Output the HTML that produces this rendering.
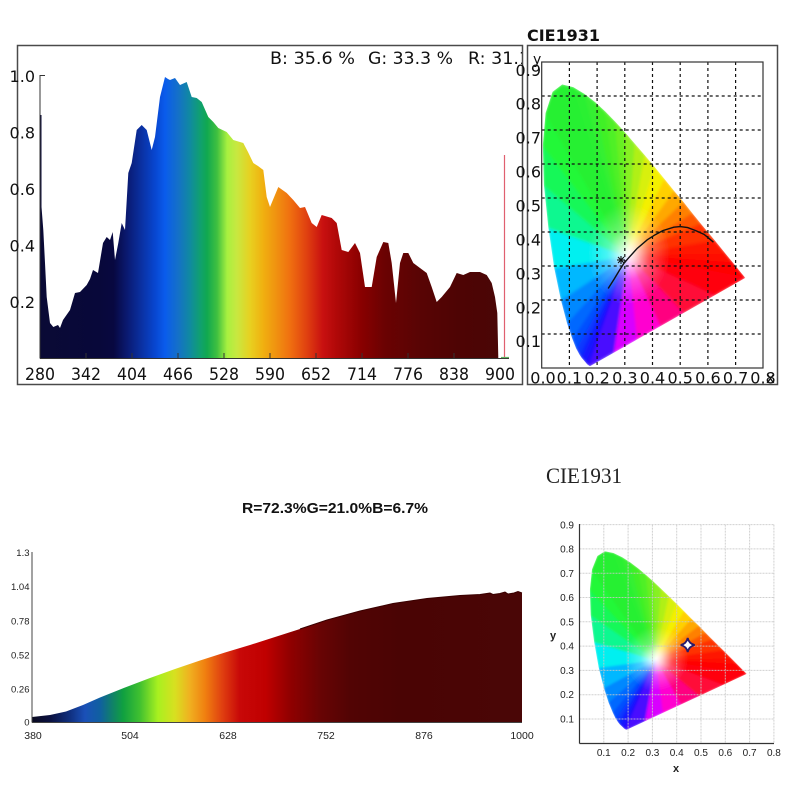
<!DOCTYPE html>
<html><head><meta charset="utf-8"><style>
html,body{margin:0;padding:0;background:#fff;}
svg{display:block;}
.fan polygon{fill:currentColor;stroke:currentColor;stroke-width:4;stroke-linejoin:round;}
.t1{font-family:"DejaVu Sans",Verdana,sans-serif;fill:#111;}
.t2{font-family:"Liberation Sans",Arial,sans-serif;fill:#222;}
</style></head><body>
<svg width="800" height="800" viewBox="0 0 800 800" xmlns="http://www.w3.org/2000/svg">
<defs>
<linearGradient id="gTop" gradientUnits="userSpaceOnUse" x1="40" y1="0" x2="500" y2="0">
<stop offset="0" stop-color="#0a0a35"/>
<stop offset="0.13" stop-color="#08083a"/>
<stop offset="0.16" stop-color="#080840"/>
<stop offset="0.19" stop-color="#0a1a72"/>
<stop offset="0.217" stop-color="#0a2e9c"/>
<stop offset="0.25" stop-color="#0846d0"/>
<stop offset="0.272" stop-color="#0a5cec"/>
<stop offset="0.3" stop-color="#1470c8"/>
<stop offset="0.326" stop-color="#108aa0"/>
<stop offset="0.348" stop-color="#10a070"/>
<stop offset="0.363" stop-color="#10a850"/>
<stop offset="0.385" stop-color="#40c040"/>
<stop offset="0.407" stop-color="#a8f040"/>
<stop offset="0.428" stop-color="#c8e840"/>
<stop offset="0.457" stop-color="#e8d020"/>
<stop offset="0.485" stop-color="#f0b010"/>
<stop offset="0.515" stop-color="#f09010"/>
<stop offset="0.543" stop-color="#f07010"/>
<stop offset="0.58" stop-color="#e04010"/>
<stop offset="0.615" stop-color="#c81010"/>
<stop offset="0.645" stop-color="#b00808"/>
<stop offset="0.7" stop-color="#880000"/>
<stop offset="0.75" stop-color="#6a0202"/>
<stop offset="0.83" stop-color="#580404"/>
<stop offset="0.91" stop-color="#4e0404"/>
<stop offset="1" stop-color="#4a0606"/>
</linearGradient>
<linearGradient id="gBot" gradientUnits="userSpaceOnUse" x1="32" y1="0" x2="522" y2="0">
<stop offset="0" stop-color="#0a0a20"/>
<stop offset="0.037" stop-color="#0a1040"/>
<stop offset="0.078" stop-color="#103080"/>
<stop offset="0.108" stop-color="#1a50b8"/>
<stop offset="0.139" stop-color="#1060a0"/>
<stop offset="0.163" stop-color="#10806a"/>
<stop offset="0.186" stop-color="#10a040"/>
<stop offset="0.22" stop-color="#40c030"/>
<stop offset="0.257" stop-color="#a8f020"/>
<stop offset="0.292" stop-color="#d8e020"/>
<stop offset="0.322" stop-color="#f0b020"/>
<stop offset="0.353" stop-color="#f08010"/>
<stop offset="0.388" stop-color="#e04010"/>
<stop offset="0.424" stop-color="#c80808"/>
<stop offset="0.476" stop-color="#c00000"/>
<stop offset="0.527" stop-color="#900000"/>
<stop offset="0.588" stop-color="#680404"/>
<stop offset="0.649" stop-color="#520404"/>
<stop offset="0.751" stop-color="#4a0404"/>
<stop offset="1" stop-color="#4a0606"/>
</linearGradient>
<radialGradient id="ws" gradientUnits="userSpaceOnUse" cx="315" cy="335" r="150">
<stop offset="0" stop-color="#fff" stop-opacity="1"/>
<stop offset="0.18" stop-color="#fff" stop-opacity="0.8"/>
<stop offset="0.5" stop-color="#fff" stop-opacity="0.3"/>
<stop offset="1" stop-color="#fff" stop-opacity="0"/>
</radialGradient>
<filter id="bl" x="-10%" y="-10%" width="120%" height="120%"><feGaussianBlur stdDeviation="5"/></filter>
<clipPath id="hs"><polygon points="174,5 164,11 157,18 144,30 136,40 124,58 110,87 91,133 69,201 45,295 24,413 8,538 4,655 14,750 39,812 74,834 114,826 155,806 193,782 230,754 266,724 302,692 337,659 373,625 409,590 444,555 479,520 513,487 545,454 575,424 627,373 666,334 692,308 719,281 735,265"/></clipPath>
<clipPath id="titleClip"><rect x="0" y="0" width="522" height="100"/></clipPath>
<g id="fanG">
<g clip-path="url(#hs)">
<g class="fan" filter="url(#bl)">
<polygon color="#2a10ff" points="310,330 174,5 164,11"/>
<polygon color="#2010ff" points="310,330 164,11 157,18"/>
<polygon color="#1818ff" points="310,330 157,18 144,30"/>
<polygon color="#1028ff" points="310,330 144,30 136,40"/>
<polygon color="#0838ff" points="310,330 136,40 124,58"/>
<polygon color="#0050ff" points="310,330 124,58 110,87"/>
<polygon color="#0068ff" points="310,330 110,87 91,133"/>
<polygon color="#0088ff" points="310,330 91,133 69,201"/>
<polygon color="#00b8ff" points="310,330 69,201 45,295"/>
<polygon color="#00f0f0" points="310,330 45,295 24,413"/>
<polygon color="#10f890" points="310,330 24,413 8,538"/>
<polygon color="#18f858" points="310,330 8,538 4,655"/>
<polygon color="#20f838" points="310,330 4,655 14,750"/>
<polygon color="#28f030" points="310,330 14,750 39,812"/>
<polygon color="#28f030" points="310,330 39,812 74,834"/>
<polygon color="#28f030" points="310,330 74,834 114,826"/>
<polygon color="#2cf030" points="310,330 114,826 155,806"/>
<polygon color="#34f030" points="310,330 155,806 193,782"/>
<polygon color="#40f028" points="310,330 193,782 230,754"/>
<polygon color="#50f028" points="310,330 230,754 266,724"/>
<polygon color="#68f020" points="310,330 266,724 302,692"/>
<polygon color="#88f020" points="310,330 302,692 337,659"/>
<polygon color="#b0f018" points="310,330 337,659 373,625"/>
<polygon color="#d8f008" points="310,330 373,625 409,590"/>
<polygon color="#f4f000" points="310,330 409,590 444,555"/>
<polygon color="#ffd000" points="310,330 444,555 479,520"/>
<polygon color="#ffa800" points="310,330 479,520 513,487"/>
<polygon color="#ff8000" points="310,330 513,487 545,454"/>
<polygon color="#ff5800" points="310,330 545,454 575,424"/>
<polygon color="#ff3000" points="310,330 575,424 627,373"/>
<polygon color="#ff1800" points="310,330 627,373 666,334"/>
<polygon color="#ff0800" points="310,330 666,334 692,308"/>
<polygon color="#ff0000" points="310,330 692,308 719,281"/>
<polygon color="#ff0000" points="310,330 719,281 735,265"/>
<polygon color="#ff0010" points="310,330 735,265 623,213"/>
<polygon color="#ff0838" points="310,330 623,213 511,161"/>
<polygon color="#ff0080" points="310,330 511,161 427,122"/>
<polygon color="#ff00d0" points="310,330 427,122 342,83"/>
<polygon color="#d800ff" points="310,330 342,83 258,44"/>
<polygon color="#4810ff" points="310,330 258,44 174,5"/>
<circle cx="315" cy="335" r="150" fill="url(#ws)"/>
</g></g></g>
</defs>

<rect x="0" y="0" width="800" height="800" fill="#fff"/>

<!-- ============ TOP LEFT SPECTRUM ============ -->
<rect x="17.5" y="45.5" width="505" height="339" fill="#fff" stroke="#4a4a4a" stroke-width="1.5"/>
<path fill="url(#gTop)" d="M40,358 L40,115 L41.5,115 L41.5,207 L43.3,230 L45,263 L46.7,297 L50,323 L53.3,327 L58,325 L60,328 L63,320 L70,310 L75,293 L80,292 L86.7,285 L90,279 L93,270 L98,273 L103,243 L106.7,237 L110,240 L112.7,232 L115,260 L118.3,243 L121.7,223 L125,230 L128.3,173 L131.7,163 L136.7,130 L141.7,125 L146.7,130 L151.7,150 L155,137 L160,97 L165,77 L168,79 L170,80 L175,78 L180,85 L186.7,82 L191.7,97 L196.7,98 L201.7,102 L208.3,117 L213.3,122 L218.3,128 L226.7,132 L233.3,140 L243.3,143 L248,152 L253.3,163 L258,166 L263.3,170 L266.7,197 L270,207 L278.3,187 L286.7,193 L293.3,200 L300,208 L305,207 L311.7,223 L316.7,227 L321.7,215 L331.7,218 L336.7,223 L341.7,250 L348.3,252 L355,243 L360,253 L365,287 L371.7,287 L376.7,257 L383.3,242 L388.3,243 L391.7,263 L396,303 L400,263 L403.3,253 L408.3,253 L413.3,263 L420,268 L426.7,273 L431.7,287 L436.7,302 L441.7,297 L450,287 L456.7,273 L463.3,275 L470,272 L480,272 L486.7,275 L491.7,283 L495,297 L497.3,313 L498.3,358 Z"/>
<!-- axes -->
<line x1="40" y1="75" x2="40" y2="358.5" stroke="#333" stroke-width="1"/>
<line x1="40" y1="75.5" x2="45" y2="75.5" stroke="#333" stroke-width="1"/>
<line x1="40" y1="358.5" x2="509" y2="358.5" stroke="#333" stroke-width="1"/>
<g stroke="#333" stroke-width="1">
<line x1="86" y1="358" x2="86" y2="353"/><line x1="132" y1="358" x2="132" y2="353"/><line x1="178" y1="358" x2="178" y2="353"/><line x1="224" y1="358" x2="224" y2="353"/><line x1="270" y1="358" x2="270" y2="353"/><line x1="316" y1="358" x2="316" y2="353"/><line x1="362" y1="358" x2="362" y2="353"/><line x1="408" y1="358" x2="408" y2="353"/><line x1="454" y1="358" x2="454" y2="353"/>
</g>
<line x1="504.5" y1="155" x2="504.5" y2="357" stroke="#e06070" stroke-width="1.2"/>
<line x1="501" y1="357.5" x2="509" y2="357.5" stroke="#60b060" stroke-width="1.2"/>
<g class="t1" font-size="16" text-anchor="end">
<text x="35" y="82">1.0</text>
<text x="35" y="138.5">0.8</text>
<text x="35" y="195">0.6</text>
<text x="35" y="251.5">0.4</text>
<text x="35" y="308">0.2</text>
</g>
<g class="t1" font-size="17" text-anchor="middle">
<text x="40" y="380" textLength="30" lengthAdjust="spacingAndGlyphs">280</text>
<text x="86" y="380" textLength="30" lengthAdjust="spacingAndGlyphs">342</text>
<text x="132" y="380" textLength="30" lengthAdjust="spacingAndGlyphs">404</text>
<text x="178" y="380" textLength="30" lengthAdjust="spacingAndGlyphs">466</text>
<text x="224" y="380" textLength="30" lengthAdjust="spacingAndGlyphs">528</text>
<text x="270" y="380" textLength="30" lengthAdjust="spacingAndGlyphs">590</text>
<text x="316" y="380" textLength="30" lengthAdjust="spacingAndGlyphs">652</text>
<text x="362" y="380" textLength="30" lengthAdjust="spacingAndGlyphs">714</text>
<text x="408" y="380" textLength="30" lengthAdjust="spacingAndGlyphs">776</text>
<text x="454" y="380" textLength="30" lengthAdjust="spacingAndGlyphs">838</text>
<text x="500" y="380" textLength="30" lengthAdjust="spacingAndGlyphs">900</text>
</g>
<g class="t1" font-size="16.5" clip-path="url(#titleClip)">
<text x="270" y="64" textLength="85" lengthAdjust="spacingAndGlyphs">B: 35.6 %</text>
<text x="368" y="64" textLength="85" lengthAdjust="spacingAndGlyphs">G: 33.3 %</text>
<text x="468" y="64" textLength="62" lengthAdjust="spacingAndGlyphs">R: 31.1</text>
</g>

<!-- ============ TOP RIGHT CIE ============ -->
<text class="t1" x="527" y="41" font-size="16" font-weight="bold" textLength="73" lengthAdjust="spacingAndGlyphs">CIE1931</text>
<rect x="527.5" y="45.5" width="250" height="339" fill="none" stroke="#4a4a4a" stroke-width="1.5"/>
<use href="#fanG" transform="translate(541.7,368) scale(0.277,-0.34)"/>
<g stroke="#111" stroke-width="1.2" stroke-dasharray="3,3" fill="none">
<line x1="569.4" y1="62" x2="569.4" y2="368"/>
<line x1="597.1" y1="62" x2="597.1" y2="368"/>
<line x1="624.8" y1="62" x2="624.8" y2="368"/>
<line x1="652.5" y1="62" x2="652.5" y2="368"/>
<line x1="680.2" y1="62" x2="680.2" y2="368"/>
<line x1="707.9" y1="62" x2="707.9" y2="368"/>
<line x1="735.6" y1="62" x2="735.6" y2="368"/>
<line x1="541.7" y1="334" x2="763" y2="334"/>
<line x1="541.7" y1="300" x2="763" y2="300"/>
<line x1="541.7" y1="266" x2="763" y2="266"/>
<line x1="541.7" y1="232" x2="763" y2="232"/>
<line x1="541.7" y1="198" x2="763" y2="198"/>
<line x1="541.7" y1="164" x2="763" y2="164"/>
<line x1="541.7" y1="130" x2="763" y2="130"/>
<line x1="541.7" y1="96" x2="763" y2="96"/>
</g>
<rect x="541.7" y="62" width="221.3" height="306" fill="none" stroke="#333" stroke-width="1.2"/>
<polyline fill="none" stroke="#111" stroke-width="1.4" transform="translate(541.7,368) scale(0.277,-0.34)" vector-effect="non-scaling-stroke" points="240,234 262,262 281,288 297,308 314,324 345,352 381,377 410,392 437,404 477,414 500,416 527,413 556,404 586,393 604,381 620,370"/>
<g stroke="#111" stroke-width="1.1">
<line x1="617" y1="260" x2="625" y2="260"/>
<line x1="621" y1="256" x2="621" y2="264"/>
<line x1="618" y1="257" x2="624" y2="263"/>
<line x1="624" y1="257" x2="618" y2="263"/>
</g>
<g class="t1" font-size="16" text-anchor="middle">
<text x="543" y="383.5">0.0</text>
<text x="569.4" y="383.5">0.1</text>
<text x="597.1" y="383.5">0.2</text>
<text x="624.8" y="383.5">0.3</text>
<text x="652.5" y="383.5">0.4</text>
<text x="680.2" y="383.5">0.5</text>
<text x="707.9" y="383.5">0.6</text>
<text x="735.6" y="383.5">0.7</text>
<text x="763" y="383.5">0.8</text>
</g>
<text class="t1" x="766" y="383" font-size="15">x</text>
<g class="t1" font-size="16" text-anchor="end">
<text x="541" y="76">0.9</text>
<text x="541" y="109.5">0.8</text>
<text x="541" y="143.5">0.7</text>
<text x="541" y="177.5">0.6</text>
<text x="541" y="211.5">0.5</text>
<text x="541" y="245.5">0.4</text>
<text x="541" y="279.5">0.3</text>
<text x="541" y="313.5">0.2</text>
<text x="541" y="347">0.1</text>
</g>
<text class="t1" x="533" y="64" font-size="14">y</text>

<!-- ============ BOTTOM LEFT SPECTRUM ============ -->
<text class="t2" x="335" y="513" font-size="15" font-weight="bold" text-anchor="middle" textLength="186" lengthAdjust="spacingAndGlyphs" style="fill:#111">R=72.3%G=21.0%B=6.7%</text>
<path fill="url(#gBot)" d="M32,722 L32,717 L50,715 L66,711.5 L83,705 L100,697.5 L125,687.5 L150,678 L175,669 L200,660.5 L225,652.5 L250,645 L275,637 L300,629 L327,620 L360,611 L393,603.5 L427,598.5 L460,595.5 L480,594.5 L490,593 L493,594.5 L500,593.5 L505,592 L508,594 L514,593 L518,591.5 L522,593 L522,722 Z"/>
<path fill="none" stroke="#3a0000" stroke-width="1" d="M300,629 L327,620 L360,611 L393,603.5 L427,598.5 L460,595.5 L480,594.5 L490,593 L493,594.5 L500,593.5 L505,592 L508,594 L514,593 L518,591.5 L522,593"/>
<line x1="32" y1="552" x2="32" y2="722.5" stroke="#444" stroke-width="1"/>
<line x1="32" y1="722.5" x2="522" y2="722.5" stroke="#444" stroke-width="1"/>
<g class="t2" font-size="9.5" text-anchor="end">
<text x="29.5" y="556">1.3</text>
<text x="29.5" y="590">1.04</text>
<text x="29.5" y="624.5">0.78</text>
<text x="29.5" y="658.5">0.52</text>
<text x="29.5" y="692.5">0.26</text>
<text x="29.5" y="725.5">0</text>
</g>
<g class="t2" font-size="10.5" text-anchor="middle">
<text x="33" y="739">380</text>
<text x="130" y="739">504</text>
<text x="228" y="739">628</text>
<text x="326" y="739">752</text>
<text x="424" y="739">876</text>
<text x="522" y="739">1000</text>
</g>

<!-- ============ BOTTOM RIGHT CIE ============ -->
<text x="546" y="483" font-family="'Liberation Serif','Times New Roman',serif" font-size="22" fill="#222" textLength="76" lengthAdjust="spacingAndGlyphs">CIE1931</text>
<use href="#fanG" transform="translate(589,731) scale(0.2146,-0.2155)"/>
<g stroke="#c8c8c8" stroke-width="1" stroke-dasharray="2,1" fill="none" opacity="0.85">
<line x1="603.8" y1="524.6" x2="603.8" y2="743.3"/>
<line x1="628.1" y1="524.6" x2="628.1" y2="743.3"/>
<line x1="652.4" y1="524.6" x2="652.4" y2="743.3"/>
<line x1="676.7" y1="524.6" x2="676.7" y2="743.3"/>
<line x1="701" y1="524.6" x2="701" y2="743.3"/>
<line x1="725.3" y1="524.6" x2="725.3" y2="743.3"/>
<line x1="749.6" y1="524.6" x2="749.6" y2="743.3"/>
<line x1="773.9" y1="524.6" x2="773.9" y2="743.3"/>
<line x1="579.5" y1="719" x2="774" y2="719"/>
<line x1="579.5" y1="694.7" x2="774" y2="694.7"/>
<line x1="579.5" y1="670.4" x2="774" y2="670.4"/>
<line x1="579.5" y1="646.1" x2="774" y2="646.1"/>
<line x1="579.5" y1="621.8" x2="774" y2="621.8"/>
<line x1="579.5" y1="597.5" x2="774" y2="597.5"/>
<line x1="579.5" y1="573.2" x2="774" y2="573.2"/>
<line x1="579.5" y1="548.9" x2="774" y2="548.9"/>
<line x1="579.5" y1="524.6" x2="774" y2="524.6"/>
</g>
<line x1="579.5" y1="524" x2="579.5" y2="743.5" stroke="#333" stroke-width="1.2"/>
<line x1="579.5" y1="743.5" x2="774" y2="743.5" stroke="#333" stroke-width="1.2"/>
<path d="M687.7,638 Q689,643.7 694.7,645 Q689,646.3 687.7,652 Q686.4,646.3 680.7,645 Q686.4,643.7 687.7,638Z" fill="#fff" stroke="#2a1a6a" stroke-width="1.8"/>
<g class="t2" font-size="10" text-anchor="end">
<text x="574" y="528.5">0.9</text>
<text x="574" y="552.5">0.8</text>
<text x="574" y="577">0.7</text>
<text x="574" y="601">0.6</text>
<text x="574" y="625.5">0.5</text>
<text x="574" y="649.5">0.4</text>
<text x="574" y="674">0.3</text>
<text x="574" y="698">0.2</text>
<text x="574" y="722.5">0.1</text>
</g>
<g class="t2" font-size="10" text-anchor="middle">
<text x="603.8" y="756">0.1</text>
<text x="628.1" y="756">0.2</text>
<text x="652.4" y="756">0.3</text>
<text x="676.7" y="756">0.4</text>
<text x="701" y="756">0.5</text>
<text x="725.3" y="756">0.6</text>
<text x="749.6" y="756">0.7</text>
<text x="773.9" y="756">0.8</text>
</g>
<text class="t2" x="553" y="639" font-size="11" font-weight="bold" text-anchor="middle">y</text>
<text class="t2" x="676" y="772" font-size="11" font-weight="bold" text-anchor="middle">x</text>
</svg>
</body></html>
